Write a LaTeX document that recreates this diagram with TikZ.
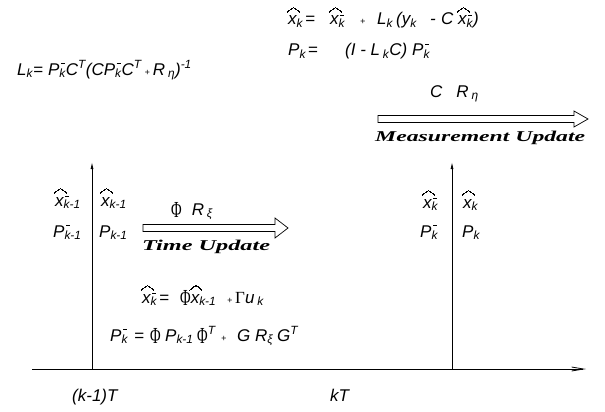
\documentclass[tikz,border=0pt]{standalone}
\usepackage{fontspec}
\usepackage{graphicx}
\setmainfont{Liberation Sans}
\newfontfamily\serifb{Liberation Serif}
\usetikzlibrary{arrows.meta}
\newcommand\xh{\leavevmode\rlap{\unitlength=1pt\linethickness{0.6pt}\begin{picture}(0,0)\qbezier(-1,13)(1.5,15.5)(5,17.5)\qbezier(5,17.5)(8.5,15.5)(11,13)\end{picture}}{\itshape x}}
\newcommand\sbb[1]{\textsubscript{#1}}
\newcommand\spp[1]{\textsuperscript{#1}}
% minus superscript over a subscript: after x (low) and after capitals (high)
\newcommand\mnx[1]{\rlap{\hspace{1.5pt}\raisebox{9pt}{\rule{4pt}{0.9pt}}}\textsubscript{#1}}
\newcommand\mnc[1]{\rlap{\hspace{1.5pt}\raisebox{11pt}{\rule{4pt}{0.9pt}}}\textsubscript{#1}}
\newcommand\Phis{\raisebox{-2pt}{\scalebox{0.85}[1.35]{\serifb\upshape Φ}}}
\newcommand\Gams{{\serifb\upshape Γ}}
\newcommand\seg[2]{\makebox[#1][l]{#2}}
\begin{document}
\begin{tikzpicture}[x=1pt,y=-1pt,
  eq/.style={anchor=base west, inner sep=0pt, font=\fontsize{17}{20}\selectfont\itshape},
  ttl/.style={anchor=base west, inner sep=0pt, font=\fontsize{15}{18}\selectfont\serifb\bfseries\itshape},
  dbl/.style={draw, line width=0.7pt, fill=white},
  axisline/.style={line width=0.8pt, -{Straight Barb[length=12pt,width=4pt]}},
  vline/.style={line width=0.8pt, -{Latex[length=7pt,width=3pt]}}]
\useasboundingbox (0,0) rectangle (605,412);
% axis and time markers
\coordinate (a0) at (32,369); \coordinate (a1) at (586,369);
\draw[axisline] (a0) -- (a1);
\coordinate (l0) at (92,369); \coordinate (l1) at (92,162);
\draw[vline] (l0) -- (l1);
\coordinate (r0) at (452,369); \coordinate (r1) at (452,162);
\draw[vline] (r0) -- (r1);
% hollow arrows
\draw[dbl] (143,224.5) -- (275,224.5) -- (275,218) -- (288,228) -- (275,238) -- (275,231.5) -- (143,231.5) -- cycle;
\draw[dbl] (378,115.5) -- (574,115.5) -- (574,111) -- (588,119) -- (574,127) -- (574,122.5) -- (378,122.5) -- cycle;
% top equations
\node[eq] (e1) at (288,25) {\seg{42pt}{\xh\sbb{k}\hspace{2pt}=}\seg{30pt}{\xh\mnx{k}}\seg{17pt}{\small +}\seg{53pt}{L\sbb{k}\hspace{3pt}(y\sbb{k}}\seg{11pt}{-}\seg{17pt}{C}\xh\mnx{k})};
\node[eq] (e2) at (288,56) {\seg{57pt}{P\sbb{k}\hspace{2pt}=}\seg{67pt}{(I - L\,\sbb{k}C)}P\mnc{k}};
\node[eq] (e3) at (17,75) {L\sbb{k}=\hspace{5pt}P\mnc{k}C\spp{T}(CP\mnc{k}C\spp{T}\hspace{3pt}{\small +}\hspace{3pt}R\,\sbb{η})\spp{-1}};
\node[eq] (cr) at (430,97) {C\hspace{14pt}R\,\sbb{η}};
\node[ttl] (mu) at (375,141) {\scalebox{1.58}[1]{Measurement Update}};
% left labels
\node[eq] (xm1) at (55,206) {\xh\mnx{k-1}};
\node[eq] (xp1) at (101,206) {\xh\sbb{k-1}};
\node[eq] (pm1) at (53,237) {P\mnc{k-1}};
\node[eq] (pp1) at (99,237) {P\sbb{k-1}};
\node[eq] (pr) at (171,215) {\Phis\hspace{10pt}R\,\sbb{ξ}};
\node[ttl] (tu) at (142,250) {\scalebox{1.62}[1]{Time Update}};
% bottom equations
\node[eq] (e4) at (142,303) {\seg{38pt}{\xh\mnx{k}\hspace{2pt}=}\seg{47pt}{\Phis\xh\sbb{k-1}}\seg{8pt}{\small +}\Gams u\,\sbb{k}};
\node[eq] (e5) at (110,341) {\seg{24pt}{P\mnc{k}}\seg{16pt}{=}\seg{15pt}{\Phis}\seg{32pt}{P\sbb{k-1}}\seg{24pt}{\Phis\spp{T}}\seg{16pt}{\small +}\seg{18pt}{G}\seg{22pt}{R\sbb{ξ}}G\spp{T}};
% right labels
\node[eq] (xm) at (423,208) {\xh\mnx{k}};
\node[eq] (xp) at (463,208) {\xh\sbb{k}};
\node[eq] (pm) at (420,237) {P\mnc{k}};
\node[eq] (pp) at (462,237) {P\sbb{k}};
% axis labels
\node[eq] (t1) at (72,401) {(k-1)T};
\node[eq] (t2) at (330,401) {kT};
\end{tikzpicture}
\end{document}
